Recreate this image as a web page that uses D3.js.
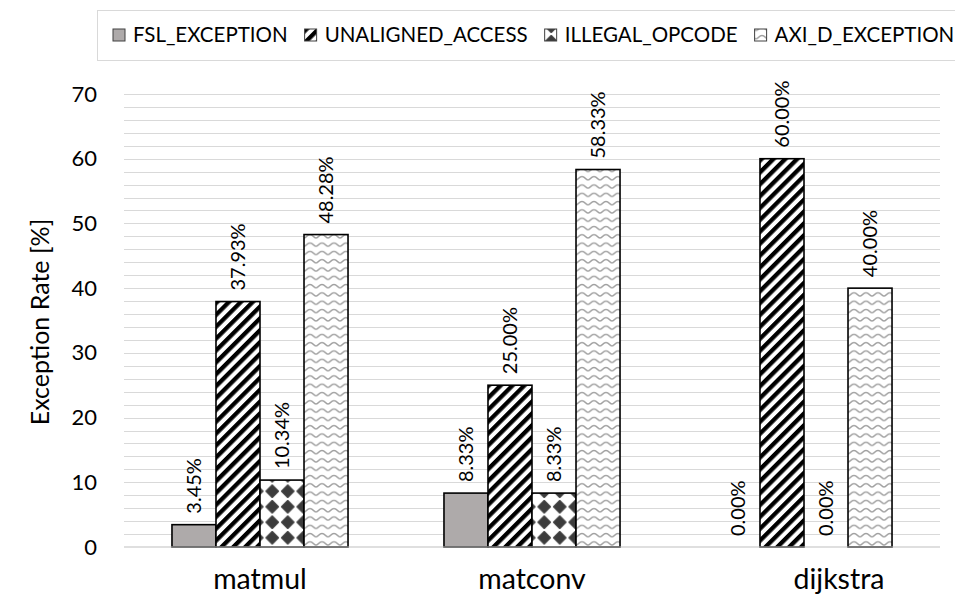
<!DOCTYPE html>
<html><head><meta charset="utf-8">
<script src="https://cdn.jsdelivr.net/npm/d3@7"></script>
<style>body{margin:0;background:#fff;}svg{display:block;font-family:Lato,"Open Sans",sans-serif;}</style>
</head><body><svg id="c" width="955" height="594"></svg>
<script>
const categories = ["matmul", "matconv", "dijkstra"];
const seriesNames = ["FSL_EXCEPTION", "UNALIGNED_ACCESS", "ILLEGAL_OPCODE", "AXI_D_EXCEPTION"];
const fslValues = [3.45, 8.33, 0.00];
const unalignedValues = [37.93, 25.00, 60.00];
const illegalValues = [10.34, 8.33, 0.00];
const axiValues = [48.28, 58.33, 40.00];
const yTicks = [0, 10, 20, 30, 40, 50, 60, 70];
const yTitle = "Exception Rate [%]";

const seriesValues = [fslValues, unalignedValues, illegalValues, axiValues];
const svg = d3.select("#c");
const W = 955, H = 594;
const m = {left:124, right:15, top:94, bottom:47};
const x0 = d3.scaleBand().domain(categories).range([m.left, W - m.right]).paddingInner(0).paddingOuter(0);
const x1 = d3.scaleBand().domain(seriesNames).range([0, x0.bandwidth()]).paddingInner(0).paddingOuter(1.09);
const y = d3.scaleLinear().domain([0, 70]).range([H - m.bottom, m.top]);

// patterns
const defs = svg.append("defs");
const p1 = defs.append("pattern").attr("id","pStripe").attr("patternUnits","userSpaceOnUse")
  .attr("width",8.4).attr("height",8.4).attr("patternTransform","rotate(45)");
p1.append("rect").attr("width",8.4).attr("height",8.4).attr("fill","#fff");
p1.append("rect").attr("width",4.3).attr("height",8.4).attr("fill","#000");

const p2 = defs.append("pattern").attr("id","pDiamond").attr("patternUnits","userSpaceOnUse")
  .attr("width",15.5).attr("height",15.5).attr("x",1).attr("y",3);
p2.append("rect").attr("width",15.5).attr("height",15.5).attr("fill","#fff");
p2.append("path").attr("d","M7.75,1.5 L14,7.75 L7.75,14 L1.5,7.75 Z").attr("fill","#3c3c3c")
  .attr("stroke","#3c3c3c").attr("stroke-width",1.2).attr("stroke-linejoin","round");

const p3 = defs.append("pattern").attr("id","pWave").attr("patternUnits","userSpaceOnUse")
  .attr("width",12).attr("height",8.3);
p3.append("rect").attr("width",12).attr("height",8.3).attr("fill","#fff");
p3.append("path").attr("d","M0,5.6 C2,5.6 3,2.4 6,2.4 C9,2.4 10,5.6 12,5.6")
  .attr("fill","none").attr("stroke","#a0a0a0").attr("stroke-width",1.4);

const fills = ["#aeaaaa", "url(#pStripe)", "url(#pDiamond)", "url(#pWave)"];

// gridlines every 2
const grid = d3.range(2, 71, 2);
svg.append("g").selectAll("line").data(grid).join("line")
  .attr("x1", m.left).attr("x2", W - m.right)
  .attr("y1", d => Math.round(y(d)) + 0.5).attr("y2", d => Math.round(y(d)) + 0.5)
  .attr("stroke", "#d9d9d9").attr("stroke-width", 1);

// y axis labels
const yAxis = d3.axisLeft(y).tickValues(yTicks).tickSize(0).tickPadding(0);
const ga = svg.append("g").attr("transform", `translate(${m.left - 27},0)`).call(yAxis);
ga.select(".domain").remove();
ga.selectAll("text").attr("font-size", 22).attr("fill", "#000").attr("font-family","Lato");

// bars
const groups = svg.append("g").selectAll("g").data(categories).join("g")
  .attr("transform", d => `translate(${x0(d)},0)`);
groups.selectAll("rect").data((c, ci) => seriesNames.map((s, si) => ({s, si, v: seriesValues[si][ci]})))
  .join("rect")
  .attr("x", d => x1(d.s)).attr("width", x1.bandwidth())
  .attr("y", d => y(d.v)).attr("height", d => y(0) - y(d.v))
  .attr("fill", d => fills[d.si])
  .attr("stroke", d => d.v > 0 ? "#000" : "none").attr("stroke-width", 1.6);

// zero axis line
svg.append("line").attr("x1", m.left).attr("x2", W - m.right)
  .attr("y1", y(0)).attr("y2", y(0)).attr("stroke", "#bfbfbf").attr("stroke-width", 1.2);

// data labels
groups.selectAll("text.dl").data((c, ci) => seriesNames.map((s, si) => ({s, si, v: seriesValues[si][ci]})))
  .join("text").attr("class","dl")
  .attr("transform", d => `translate(${x1(d.s) + x1.bandwidth()/2 + 7},${y(d.v) - 11}) rotate(-90)`)
  .attr("font-size", 20).attr("fill", "#000")
  .text(d => d.v.toFixed(2) + "%");

// category labels (the last one sits right of its group centre in the original)
const labelShift = {dijkstra: 35};
svg.append("g").selectAll("text").data(categories).join("text")
  .attr("x", d => x0(d) + x0.bandwidth()/2 + (labelShift[d] || 0)).attr("y", 589)
  .attr("text-anchor", "middle").attr("font-size", 28.5).attr("fill", "#000")
  .text(d => d);

// y title
svg.append("text").attr("transform", "translate(49,322) rotate(-90)")
  .attr("text-anchor", "middle").attr("font-size", 25).attr("fill", "#000").text(yTitle);

// legend
svg.append("rect").attr("x", 97.5).attr("y", 10.5).attr("width", 900).attr("height", 50)
  .attr("fill", "#fff").attr("stroke", "#d9d9d9");
const lg = svg.append("g");
let lx = 113;
seriesNames.forEach((s, i) => {
  lg.append("rect").attr("x", lx).attr("y", 29).attr("width", 12).attr("height", 12)
    .attr("fill", fills[i]).attr("stroke", "#404040").attr("stroke-width", 1);
  const t = lg.append("text").attr("x", lx + 20).attr("y", 42).attr("font-size", 20.5).attr("fill", "#000").text(s);
  lx += 20 + t.node().getComputedTextLength() + 17;
});
</script></body></html>
